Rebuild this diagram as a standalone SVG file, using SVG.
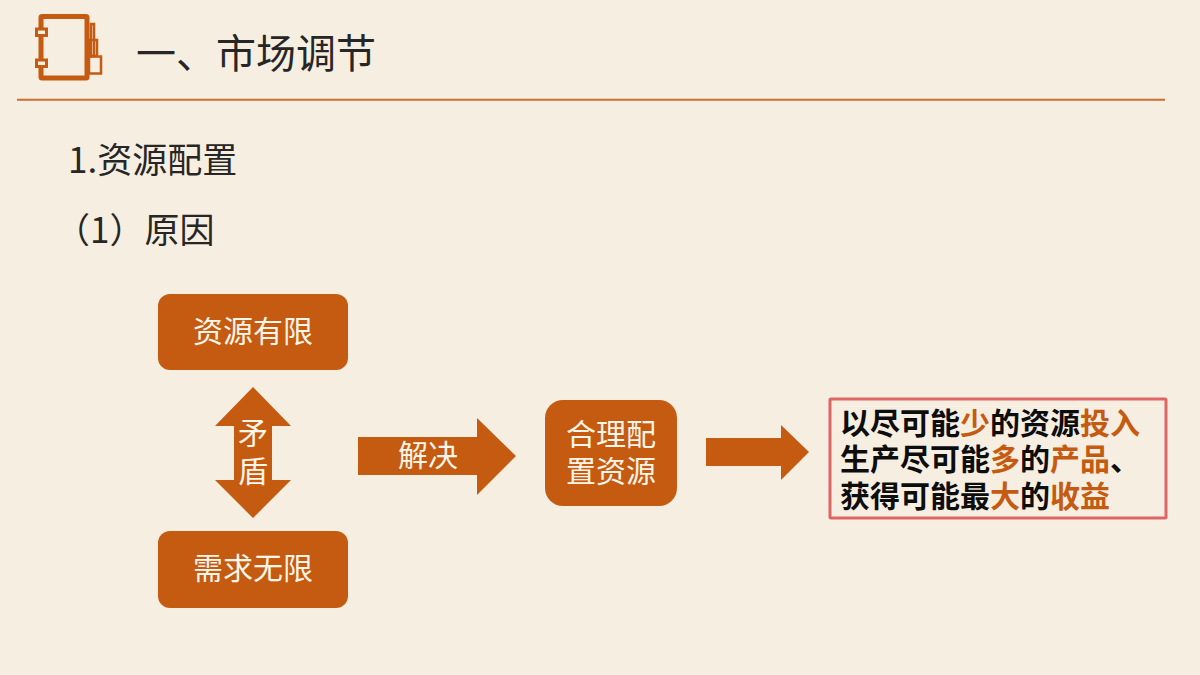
<svg xmlns="http://www.w3.org/2000/svg" width="1200" height="675" viewBox="0 0 1200 675">
<style>
text{font-family:"Noto Sans CJK SC","Noto Sans",sans-serif}
.h{font-size:40px;fill:#262626}
.s{font-size:35px;fill:#262626}
.n{fill:#c55a11}
.w{font-size:30px;fill:#fff5e8;text-anchor:middle}
.b{font-size:30px;font-weight:700;fill:#0d0d0d}
.o{fill:#c55a11}
.ic{fill:none;stroke:#c55a11}
.cl{fill:#f6eee0;stroke:#c55a11}
</style>
<rect width="1200" height="675" fill="#f6eee0"/>
<g id="icon">
<rect class="ic" x="91" y="24" width="3" height="32" stroke-width="2.500"/>
<rect class="ic" x="89" y="40" width="8" height="16" stroke-width="2.500"/>
<rect class="ic" x="89" y="56.500" width="12" height="17" stroke-width="2.500"/>
<rect class="ic" x="41" y="16.500" width="46" height="61.500" stroke-width="5" rx="1"/>
<rect class="cl" x="36.500" y="29" width="10" height="6.500" stroke-width="3"/>
<rect class="cl" x="36.500" y="60" width="10" height="6.500" stroke-width="3"/>
</g>
<text class="h" x="136" y="68">一、市场调节</text>
<line x1="17" y1="99.800" x2="1165" y2="99.800" stroke="#c9702f" stroke-width="2"/>
<text class="s" x="68" y="173">1.资源配置</text>
<text class="s" x="55" y="243">（1）原因</text>
<g id="node-resource"><rect class="n" x="158" y="294" width="190" height="76" rx="12"/><text class="w" x="253" y="342">资源有限</text></g>
<g id="node-demand"><rect class="n" x="158" y="531" width="190" height="77" rx="12"/><text class="w" x="253" y="579">需求无限</text></g>
<g id="node-allocate"><rect class="n" x="545" y="400" width="132" height="106" rx="18"/><text class="w" x="611" y="445">合理配</text><text class="w" x="611" y="482">置资源</text></g>
<g id="connectors">
<polygon id="arrow-conflict" class="n" points="253,387 291,426 272,426 272,480 291,480 253,518 215,480 234,480 234,426 215,426"/>
<polygon id="arrow-solve" class="n" points="358,437 477,437 477,418 516,456 477,495 477,475 358,475"/>
<polygon id="arrow-result" class="n" points="706,438 781,438 781,425 809,452 781,480 781,466 706,466"/>
</g>
<text class="w" x="253" y="444">矛</text>
<text class="w" x="253" y="482">盾</text>
<text class="w" x="428" y="466">解决</text>
<g id="node-result">
<rect x="830" y="399" width="336" height="119" fill="none" stroke="#e06666" stroke-width="3" rx="1"/>
<text class="b" x="840" y="434">以尽可能<tspan class="o">少</tspan>的资源<tspan class="o">投入</tspan></text>
<text class="b" x="840" y="470">生产尽可能<tspan class="o">多</tspan>的<tspan class="o">产品</tspan>、</text>
<text class="b" x="840" y="507">获得可能最<tspan class="o">大</tspan>的<tspan class="o">收益</tspan></text>
</g>
</svg>
